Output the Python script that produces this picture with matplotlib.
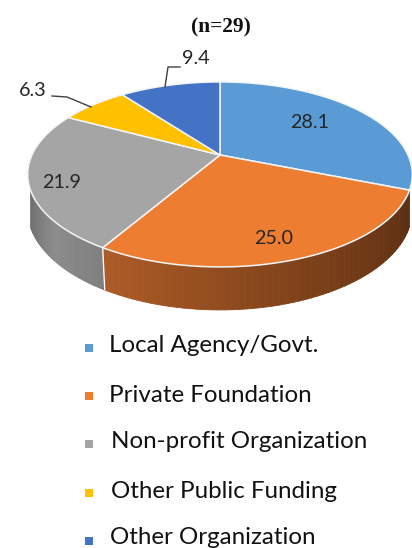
import numpy as np
import matplotlib
matplotlib.use("Agg")
import matplotlib.pyplot as plt
from matplotlib.colors import to_rgb

# data
categories = ["Local Agency/Govt.", "Private Foundation", "Non-profit Organization",
              "Other Public Funding", "Other Organization"]
values = [28.1, 25.0, 21.9, 6.3, 9.4]
value_labels = ["28.1", "25.0", "21.9", "6.3", "9.4"]
title = "(n=29)"

# style
colors = ["#5b9bd5", "#ed7d31", "#a5a5a5", "#ffc000", "#4472c4"]
# only the orange and grey slices show a wall in the picture
side_colors = {1: ["#5a2e12", "#80421a", "#ad5c26"],
               2: ["#7f7f7f", "#8c8c8c", "#717171"]}

# layout, pixels
cx, cy = 220, 155
rx, ry = 188, 88.4
k = 0.21
depth = 34
label_pos = [(310, 123), (274, 239), (62, 183), (33, 91), (196, 59)]
leaders = {3: ([52, 67, 91], [96, 97, 107]), 4: ([180, 168, 165], [67, 67, 87])}
legend_x = [109, 109, 111, 111, 110]
legend_y = [346, 395, 442, 492, 537]
marker_y = [348, 396, 444, 493, 541]
wall_end = np.radians(248)


def project(theta, down=0.0):
    # theta is clockwise from the top of the disc, in radians
    w = 1 + k * np.cos(theta)
    x = cx + rx * np.sin(theta) / w
    y = cy - ry * np.cos(theta) / w + down / w
    return x, y


fig = plt.figure(figsize=(4.12, 5.48), dpi=100)
ax = fig.add_axes([0, 0, 1, 1])
ax.set_xlim(0, 412)
ax.set_ylim(548, 0)
ax.axis("off")

edges = np.concatenate([[0], np.cumsum(values)]) / np.sum(values) * 2 * np.pi

# side wall
for i, stops in side_colors.items():
    stops = np.array([to_rgb(c) for c in stops])
    grid = np.linspace(edges[i], min(edges[i + 1], wall_end), 60)
    for j in range(len(grid) - 1):
        t = np.array([grid[j], grid[j + 1]])
        xt, yt = project(t)
        xb, yb = project(t, depth)
        pos = j / (len(grid) - 2)
        col = [np.interp(pos, [0, 0.5, 1], stops[:, c]) for c in range(3)]
        ax.fill([xt[0], xt[1], xb[1], xb[0]], [yt[0], yt[1], yb[1], yb[0]],
                facecolor=col, edgecolor=col, lw=0.6, zorder=2)

# white seam between orange and grey walls
xt, yt = project(edges[2])
xb, yb = project(edges[2], depth)
ax.plot([xt, xb + 2], [yt, yb], color="white", lw=1.0, zorder=3)

# top face
for i in range(len(values)):
    t = np.linspace(edges[i], edges[i + 1], 200)
    x, y = project(t)
    ax.fill(np.r_[cx, x], np.r_[cy, y], facecolor=colors[i], edgecolor="#f2f5f8",
            lw=1.1, joinstyle="round", zorder=4)

# data labels
for i, lab in enumerate(value_labels):
    ax.text(label_pos[i][0], label_pos[i][1], lab, family="Lato", fontsize=14.2,
            color="#262626", ha="center", va="center", zorder=6)
for xs, ys in leaders.values():
    ax.plot(xs, ys, color="#404040", lw=1.0, zorder=6)

ax.text(221, 27, title, family="Liberation Serif", fontweight="bold", fontsize=15.4,
        color="#111111", ha="center", va="center")

# legend
for i, name in enumerate(categories):
    ax.scatter([89], [marker_y[i]], marker="s", s=30, color=colors[i], linewidths=0)
    ax.text(legend_x[i], legend_y[i], name, family="Lato", fontsize=17.4,
            color="#111111", ha="left", va="center")

fig.savefig("out.png", dpi=100)
